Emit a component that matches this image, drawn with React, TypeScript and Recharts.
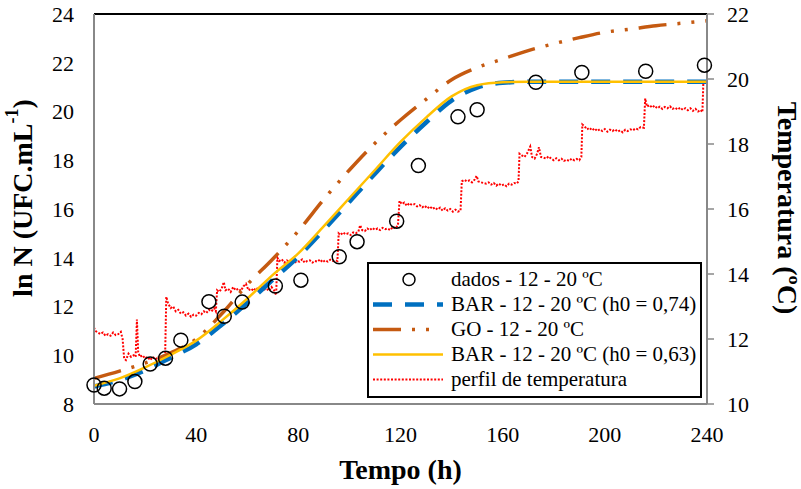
import React from "react";
import { ComposedChart, Line, XAxis, YAxis, Legend, ReferenceLine } from "recharts";

// observed ln N
const obsTime = [0, 4, 10, 16, 22, 28, 34, 45, 51, 58, 71, 81, 96, 103, 118.5, 127, 142.5, 150, 173, 191, 216, 239];
const obsLnN = [8.78, 8.65, 8.62, 8.92, 9.64, 9.88, 10.62, 12.2, 11.6, 12.18, 12.84, 13.08, 14.04, 14.66, 15.5, 17.78, 19.78, 20.07, 21.2, 21.6, 21.65, 21.9];

// model curves, every 10 h
const modelTime = [0, 10, 20, 30, 40, 50, 60, 70, 80, 90, 100, 110, 120, 130, 140, 150, 160, 170, 180, 190, 200, 210, 220, 230, 240];
const barH074 = [8.72, 8.98, 9.38, 9.9, 10.45, 11.25, 12.15, 13.1, 14.05, 15.15, 16.3, 17.45, 18.55, 19.55, 20.45, 20.98, 21.18, 21.22, 21.22, 21.22, 21.22, 21.22, 21.22, 21.22, 21.22];
const goModel = [9.05, 9.35, 9.68, 10.1, 10.66, 11.7, 12.9, 13.95, 15.1, 16.4, 17.6, 18.7, 19.65, 20.5, 21.3, 21.8, 22.15, 22.5, 22.78, 23.03, 23.25, 23.38, 23.52, 23.62, 23.72];
const barH063 = [8.75, 9.05, 9.5, 10.02, 10.6, 11.42, 12.32, 13.3, 14.18, 15.3, 16.45, 17.6, 18.75, 19.75, 20.62, 21.08, 21.2, 21.22, 21.22, 21.22, 21.22, 21.22, 21.22, 21.22, 21.22];

// temperature profile [h, °C]
const tempProfile: [number, number][] = [
  [0, 12.35], [0.5, 12.25], [1.5, 12.2], [2.5, 12.15], [3.5, 12.2], [4.5, 12.1], [5.5, 12.15], [6.5, 12.1], [7.5, 12.2], [8.5, 12.12], [9.5, 12.15], [10.5, 12.22], [11.2, 12.0], [11.8, 11.4],
  [12.5, 11.35], [13.5, 11.55], [14.5, 11.45], [15.5, 11.5], [16.3, 11.45], [16.8, 12.6], [17.3, 11.6], [18, 11.45], [19, 11.5], [20, 11.4], [21, 11.45], [22, 11.35], [23, 11.45], [24, 11.38], [25, 11.42], [26, 11.3], [27, 11.35], [27.8, 11.3],
  [28.3, 13.3], [29, 13.1], [30, 12.95], [31, 13.0], [32, 12.85], [33, 12.9], [34, 12.78], [35, 12.82], [36, 12.72], [37, 12.78], [38, 12.68], [39, 12.75], [40, 12.72], [41, 12.8], [42, 12.76], [43, 12.85], [44, 12.8], [45, 12.9], [46, 12.85], [47, 12.95], [47.7, 12.85],
  [48.2, 13.5], [49, 13.45], [50, 13.55], [50.8, 13.75], [51.5, 13.5], [52.5, 13.55], [53.5, 13.45], [54.5, 13.6], [55.5, 13.5], [56.5, 13.55], [57.5, 13.48], [58.5, 13.62], [59.5, 13.7], [60.5, 13.5], [61.5, 13.55], [62.5, 13.48], [63.5, 13.58], [64.5, 13.5], [65.5, 13.6], [66.5, 13.52], [67.5, 13.55], [68.5, 13.48], [69.5, 13.6], [70.5, 13.5], [71.3, 13.35],
  [71.8, 14.5], [72.5, 14.4], [73.5, 14.45], [74.5, 14.35], [75.5, 14.42], [76.5, 14.38], [77.5, 14.45], [78.5, 14.35], [79.5, 14.4], [80.5, 14.38], [81.5, 14.45], [82.5, 14.35], [83.5, 14.4], [84.5, 14.42], [85.5, 14.35], [86.5, 14.4], [87.5, 14.38], [88.5, 14.45], [89.5, 14.36], [90.5, 14.42], [91.5, 14.38], [92.5, 14.44], [93.5, 14.4], [94.5, 14.42], [95.3, 14.4],
  [95.8, 15.25], [96.5, 15.2], [97.5, 15.28], [98.5, 15.22], [99.5, 15.25], [100.5, 15.2], [101.5, 15.28], [102.5, 15.25], [103.5, 15.3], [104.2, 15.5], [105, 15.35], [106, 15.32], [107, 15.4], [108, 15.35], [109, 15.42], [110, 15.36], [111, 15.4], [112, 15.35], [113, 15.42], [114, 15.38], [115, 15.4], [116, 15.35], [117, 15.45], [118, 15.4], [119, 15.5],
  [119.6, 16.25], [120.5, 16.15], [121.5, 16.2], [122.5, 16.1], [123.5, 16.18], [124.5, 16.12], [125.5, 16.15], [126.5, 16.08], [127.5, 16.12], [128.5, 16.05], [129.5, 16.1], [130.5, 16.02], [131.5, 16.08], [132.5, 16.0], [133.5, 16.05], [134.5, 15.98], [135.5, 16.04], [136.5, 15.95], [137.5, 16.02], [138.5, 15.95], [139.5, 16.0], [140.5, 15.92], [141.5, 15.98], [142.5, 15.92], [143.5, 15.95],
  [144, 16.85], [145, 16.9], [146, 16.85], [147, 16.88], [148, 16.82], [149, 16.9], [149.8, 17.02], [150.5, 16.85], [151.5, 16.82], [152.5, 16.8], [153.5, 16.78], [154.5, 16.82], [155.5, 16.75], [156.5, 16.8], [157.5, 16.72], [158.5, 16.78], [159.5, 16.72], [160.5, 16.76], [161.5, 16.7], [162.5, 16.78], [163.5, 16.75], [164.5, 16.8], [165.5, 16.78], [166.2, 16.85],
  [166.6, 17.7], [167.5, 17.65], [168.5, 17.6], [169.5, 17.7], [170.8, 17.92], [171.5, 17.6], [172.5, 17.55], [173.5, 17.7], [174.2, 17.9], [175, 17.6], [176, 17.58], [177, 17.55], [178, 17.62], [179, 17.55], [180, 17.5], [181, 17.56], [182, 17.5], [183, 17.55], [184, 17.48], [185, 17.52], [186, 17.48], [187, 17.55], [188, 17.5], [189, 17.54], [190, 17.5], [190.8, 17.6],
  [191.2, 18.6], [192, 18.55], [193, 18.45], [194, 18.5], [195, 18.42], [196, 18.48], [197, 18.4], [198, 18.45], [199, 18.4], [200, 18.46], [201, 18.38], [202, 18.44], [203, 18.4], [204, 18.45], [205, 18.38], [206, 18.42], [207, 18.36], [208, 18.44], [209, 18.4], [210, 18.45], [211, 18.42], [212, 18.48], [213, 18.45], [214, 18.52], [215.3, 18.5],
  [215.8, 19.4], [216.5, 19.15], [217.5, 19.2], [218.5, 19.12], [219.5, 19.18], [220.5, 19.1], [221.5, 19.15], [222.5, 19.08], [223.5, 19.14], [224.5, 19.1], [225.5, 19.16], [226.5, 19.08], [227.5, 19.12], [228.5, 19.06], [229.5, 19.12], [230.5, 19.05], [231.5, 19.1], [232.5, 19.04], [233.5, 19.1], [234.5, 19.02], [235.5, 19.08], [236.5, 19.0], [237.5, 19.05], [238.2, 18.98], [238.6, 19.97],
];

const xTicks = [0, 40, 80, 120, 160, 200, 240];
const lnTicks = [8, 10, 12, 14, 16, 18, 20, 22, 24];
const tempTicks = [10, 12, 14, 16, 18, 20, 22];

const obsData = obsTime.map((t, i) => ({ t, v: obsLnN[i] }));
const bar074Data = modelTime.map((t, i) => ({ t, v: barH074[i] }));
const goData = modelTime.map((t, i) => ({ t, v: goModel[i] }));
const bar063Data = modelTime.map((t, i) => ({ t, v: barH063[i] }));
const tempData = tempProfile.map(([t, T]) => ({ t, T }));

const FONT = "'Liberation Serif', 'DejaVu Serif', serif";
const AXIS = "#888888";
const BLUE = "#0070C0";
const BROWN = "#C55A11";
const GOLD = "#FFC000";
const RED = "#FF0000";

const legendItems = [
  { label: "dados - 12 - 20 ºC", kind: "circle" },
  { label: "BAR - 12 - 20 ºC (h0 = 0,74)", kind: "blue" },
  { label: "GO - 12 - 20 ºC", kind: "go" },
  { label: "BAR - 12 - 20 ºC (h0 = 0,63)", kind: "gold" },
  { label: "perfil de temperatura", kind: "red" },
];

function Symbol({ kind }: { kind: string }) {
  return (
    <svg width={70} height={25} style={{ display: "block" }}>
      {kind === "circle" && <circle cx={36} cy={12.5} r={6} fill="none" stroke="#000" strokeWidth={1.5} />}
      {kind === "blue" && <line x1={0} x2={70} y1={12.5} y2={12.5} stroke={BLUE} strokeWidth={4.5} strokeDasharray="19 13" />}
      {kind === "go" && <line x1={0} x2={70} y1={12.5} y2={12.5} stroke={BROWN} strokeWidth={3.5} strokeDasharray="28 11 3 11 3 30" />}
      {kind === "gold" && <line x1={0} x2={70} y1={12.5} y2={12.5} stroke={GOLD} strokeWidth={2.5} />}
      {kind === "red" && <line x1={0} x2={70} y1={12.5} y2={12.5} stroke={RED} strokeWidth={2} strokeDasharray="2 1.6" />}
    </svg>
  );
}

function renderLegend() {
  return (
    <div style={{ border: "2px solid #000", background: "#fff", padding: "3px 0", boxSizing: "border-box", width: 335, height: 136 }}>
      {legendItems.map((it) => (
        <div key={it.label} style={{ display: "flex", alignItems: "center", height: 25 }}>
          <div style={{ marginLeft: 4, marginRight: 8 }}><Symbol kind={it.kind} /></div>
          <span style={{ fontFamily: FONT, fontSize: 21, color: "#000", whiteSpace: "nowrap" }}>{it.label}</span>
        </div>
      ))}
    </div>
  );
}

const leftTitle = () => (
  <text x={22} y={198} transform="rotate(-90 22 198)" textAnchor="middle" dominantBaseline="central"
    style={{ fontFamily: FONT }} fontSize={28} fontWeight="bold" fill="#000">
    ln N (UFC.mL<tspan fontSize={18} dy={-10}>-1</tspan><tspan dy={10}>)</tspan>
  </text>
);

const rightTitle = () => (
  <text x={787} y={208} transform="rotate(90 787 208)" textAnchor="middle" dominantBaseline="central"
    style={{ fontFamily: FONT }} fontSize={28} fontWeight="bold" fill="#000">
    Temperatura (ºC)
  </text>
);

export default function App() {
  const tick = { fontSize: 22, fill: "#000", style: { fontFamily: FONT } };
  return (
    <div style={{ position: "absolute", left: 0, top: 0, background: "#fff", fontFamily: FONT }}>
      <ComposedChart width={801} height={489} margin={{ top: 14, right: 0, bottom: 0, left: 0 }} style={{ fontFamily: FONT }}>
        <XAxis dataKey="t" type="number" domain={[0, 240]} ticks={xTicks} height={85}
          tick={tick} tickLine={false} tickSize={6} tickMargin={16}
          axisLine={{ stroke: AXIS, strokeWidth: 2 }}
          label={{ value: "Tempo (h)", position: "insideBottom", offset: 10, style: { fontFamily: FONT, fontSize: 28, fontWeight: "bold", fill: "#000" } }} />
        <YAxis yAxisId="left" domain={[8, 24]} ticks={lnTicks} width={94} interval={0}
          tick={tick} tickLine={false} tickSize={6} tickMargin={14}
          axisLine={{ stroke: AXIS, strokeWidth: 2 }} label={leftTitle} />
        <YAxis yAxisId="right" orientation="right" domain={[10, 22]} ticks={tempTicks} width={94} interval={0}
          tick={tick} tickLine={{ stroke: AXIS, strokeWidth: 1.5 }} tickSize={7} tickMargin={13}
          axisLine={{ stroke: AXIS, strokeWidth: 2 }} label={rightTitle} />
        <ReferenceLine yAxisId="left" y={24} stroke="#000" strokeWidth={2} />
        <Line yAxisId="right" data={tempData} dataKey="T" type="linear" stroke={RED} strokeWidth={2}
          strokeDasharray="2 1.6" dot={false} activeDot={false} isAnimationActive={false} />
        <Line yAxisId="left" data={goData} dataKey="v" type="monotone" stroke={BROWN} strokeWidth={3.5}
          strokeDasharray="28 11 3 11 3 11" dot={false} activeDot={false} isAnimationActive={false} />
        <Line yAxisId="left" data={bar074Data} dataKey="v" type="monotone" stroke={BLUE} strokeWidth={4.5}
          strokeDasharray="19 13" dot={false} activeDot={false} isAnimationActive={false} />
        <Line yAxisId="left" data={bar063Data} dataKey="v" type="monotone" stroke={GOLD} strokeWidth={2.5}
          dot={false} activeDot={false} isAnimationActive={false} />
        <Line yAxisId="left" data={obsData} dataKey="v" stroke="none"
          dot={{ r: 7, stroke: "#000", strokeWidth: 1.5, fill: "none" }} activeDot={false} isAnimationActive={false} />
        <Legend layout="vertical" align="center" verticalAlign="middle" content={renderLegend}
          wrapperStyle={{ left: 367, top: 262, width: 335, height: 136 }} />
      </ComposedChart>
    </div>
  );
}
